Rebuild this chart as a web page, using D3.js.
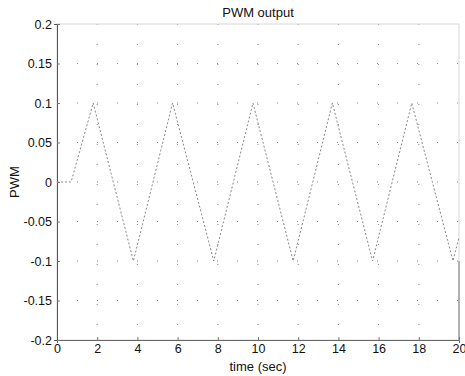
<!DOCTYPE html>
<html>
<head>
<meta charset="utf-8">
<script src="https://cdn.jsdelivr.net/npm/d3@7"></script>
<style>
  body { margin: 0; background: #fff; }
  svg text { font-family: "Liberation Sans", Arial, sans-serif; fill: #111; }
</style>
</head>
<body>
<div id="chart"></div>
<script>
// triangle wave corners
const timeSec = [0, 0.7, 1.8, 3.8, 5.75, 7.8, 9.75, 11.75, 13.7, 15.7, 17.65, 19.7, 20];
const pwmValue = [0, 0, 0.1, -0.1, 0.1, -0.1, 0.1, -0.1, 0.1, -0.1, 0.1, -0.1, -0.07];
const xTicks = [0, 2, 4, 6, 8, 10, 12, 14, 16, 18, 20];
const yTicks = [-0.2, -0.15, -0.1, -0.05, 0, 0.05, 0.1, 0.15, 0.2];

const width = 465, height = 376;
const margin = {top: 24, right: 6, bottom: 36, left: 57};

const svg = d3.select('#chart')
  .append('svg')
  .attr('width', width)
  .attr('height', height);

const x = d3.scaleLinear().domain([0, 20]).range([margin.left, width - margin.right]);
const y = d3.scaleLinear().domain([-0.2, 0.2]).range([height - margin.bottom, margin.top]);

// dotted grid
svg.append('g').selectAll('line.vg')
  .data(xTicks.slice(1, -1))
  .enter().append('line')
  .attr('x1', d => x(d)).attr('x2', d => x(d))
  .attr('y1', y(0.2)).attr('y2', y(-0.2))
  .attr('stroke', '#888').attr('stroke-width', 1)
  .attr('stroke-dasharray', '1,19');

svg.append('g').selectAll('line.hg')
  .data(yTicks.slice(1, -1))
  .enter().append('line')
  .attr('x1', x(0)).attr('x2', x(20))
  .attr('y1', d => y(d)).attr('y2', d => y(d))
  .attr('stroke', '#888').attr('stroke-width', 1)
  .attr('stroke-dasharray', '1,19');

// box
svg.append('rect')
  .attr('x', x(0)).attr('y', y(0.2))
  .attr('width', x(20) - x(0)).attr('height', y(-0.2) - y(0.2))
  .attr('fill', 'none').attr('stroke', '#d8d8d8');

// axes
const xAxis = d3.axisBottom(x).tickValues(xTicks).tickSize(3).tickFormat(d3.format('d'));
const yAxis = d3.axisLeft(y).tickValues(yTicks).tickSize(3).tickFormat(d => d === 0 ? '0' : String(d));

const gx = svg.append('g').attr('transform', `translate(0,${y(-0.2)})`).call(xAxis);
gx.select('.domain').attr('stroke', '#666');
gx.selectAll('.tick line').attr('stroke', '#777').attr('y2', -3);
gx.selectAll('.tick text').attr('font-size', 12.5).attr('dy', '0.71em').attr('y', 4);

const gy = svg.append('g').attr('transform', `translate(${x(0)},0)`).call(yAxis);
gy.select('.domain').attr('stroke', '#555');
gy.selectAll('.tick line').attr('stroke', '#777').attr('x2', 3);
gy.selectAll('.tick text').attr('font-size', 12.5).attr('x', -5);

svg.append('line')
  .attr('x1', x(20)).attr('x2', x(20))
  .attr('y1', y(-0.1)).attr('y2', y(-0.2))
  .attr('stroke', '#777');

// signal
const line = d3.line().x((d, i) => x(timeSec[i])).y(d => y(d));
svg.append('path')
  .datum(pwmValue)
  .attr('d', line)
  .attr('fill', 'none')
  .attr('stroke', '#888')
  .attr('stroke-width', 1)
  .attr('stroke-dasharray', '2,2');

// labels
svg.append('text')
  .attr('x', (x(0) + x(20)) / 2).attr('y', 17)
  .attr('text-anchor', 'middle').attr('font-size', 13)
  .text('PWM output');

svg.append('text')
  .attr('x', (x(0) + x(20)) / 2).attr('y', 371)
  .attr('text-anchor', 'middle').attr('font-size', 13)
  .text('time (sec)');

svg.append('text')
  .attr('transform', `translate(19,${y(0)}) rotate(-90)`)
  .attr('text-anchor', 'middle').attr('font-size', 13)
  .text('PWM');
</script>
</body>
</html>
